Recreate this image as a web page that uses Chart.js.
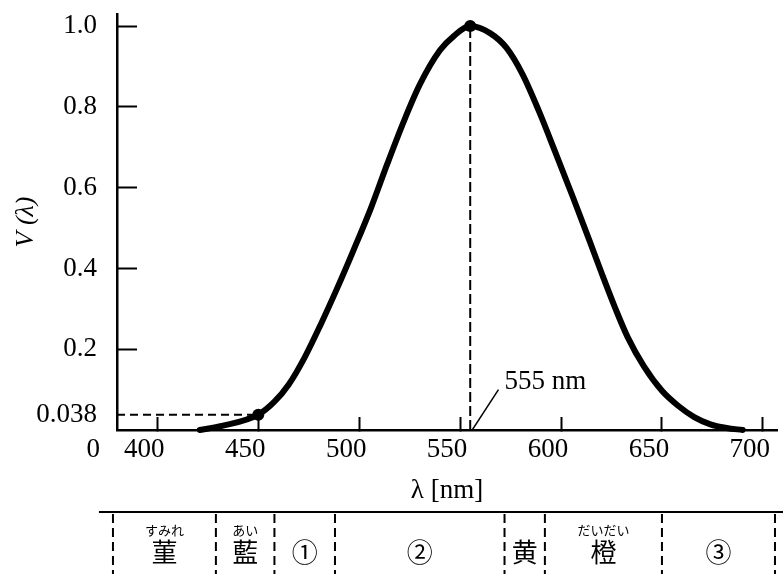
<!DOCTYPE html>
<html>
<head>
<meta charset="utf-8">
<script src="https://cdn.jsdelivr.net/npm/chart.js@4"></script>
<style>
  html, body { margin: 0; padding: 0; background: #fff; }
  #wrap { width: 783px; height: 574px; }
</style>
</head>
<body>
<div id="wrap"><canvas id="myChart" width="783" height="574"></canvas></div>
<script>
// curve
const lambdaNm = [421, 432, 450, 458, 465, 473, 481, 489, 497, 506, 514, 522, 530, 540, 547, 555, 565, 573, 581, 589, 597, 606, 614, 620, 627, 633, 641, 650, 658, 666, 674, 682, 690];
const vLambda = [0.0, 0.01, 0.038, 0.07, 0.112, 0.18, 0.262, 0.35, 0.443, 0.552, 0.66, 0.763, 0.855, 0.94, 0.976, 1.0, 0.982, 0.946, 0.88, 0.79, 0.69, 0.575, 0.47, 0.39, 0.30, 0.23, 0.158, 0.097, 0.06, 0.032, 0.014, 0.005, 0.0];

// marked points and guide lines
const markLambda = [450, 555];
const markV = [0.038, 1.0];
const dropLambda = [555, 555];
const dropV = [0, 1.0];
const levelLambda = [380, 450];
const levelV = [0.038, 0.038];
const leaderLambda = [556, 569];
const leaderV = [0, 0.10];
const peakLabel = '555 nm';

// axes
const xTicks = [400, 450, 500, 550, 600, 650, 700];
const yTicks = [0.038, 0.2, 0.4, 0.6, 0.8, 1.0];
const yTickLabels = ['0.038', '0.2', '0.4', '0.6', '0.8', '1.0'];

// colour table under the axis
const bandEdges = [378, 429, 458, 488, 572, 592, 650, 706];
const bandNames = ['菫', '藍', '①', '②', '黄', '橙', '③'];
const bandRuby = ['すみれ', 'あい', '', '', '', 'だいだい', ''];

const serif = "'Liberation Serif', 'Times New Roman', serif";
const cjk = "'Noto Sans CJK JP', 'Noto Sans CJK SC', sans-serif";
const ink = '#000';

const pts = (xs, ys) => xs.map((x, i) => ({ x: x, y: ys[i] }));

const extras = {
  id: 'extras',
  afterDraw(chart) {
    const { ctx, chartArea, scales: { x, y } } = chart;
    ctx.save();
    ctx.fillStyle = ink;
    ctx.strokeStyle = ink;

    // "0" at the origin, on the tick label row
    ctx.font = '27px ' + serif;
    ctx.textAlign = 'right';
    ctx.textBaseline = 'middle';
    ctx.fillText('0', chartArea.left - 17, chartArea.bottom + 20);

    // 555 nm label
    ctx.textAlign = 'left';
    ctx.fillText(peakLabel, x.getPixelForValue(572), y.getPixelForValue(0.12));

    // colour table
    const top = chartArea.bottom + 82;
    const bottom = chart.height;
    ctx.lineWidth = 2;
    ctx.beginPath();
    ctx.moveTo(x.getPixelForValue(bandEdges[0]) - 14, top);
    ctx.lineTo(chart.width, top);
    ctx.stroke();

    ctx.setLineDash([9, 5]);
    bandEdges.forEach(e => {
      const px = x.getPixelForValue(e);
      ctx.beginPath();
      ctx.moveTo(px, top + 2);
      ctx.lineTo(px, bottom);
      ctx.stroke();
    });
    ctx.setLineDash([]);

    ctx.textAlign = 'center';
    bandNames.forEach((name, i) => {
      const cx = (x.getPixelForValue(bandEdges[i]) + x.getPixelForValue(bandEdges[i + 1])) / 2;
      ctx.font = '26px ' + cjk;
      ctx.fillText(name, cx, top + 40);
      if (bandRuby[i]) {
        ctx.font = '13px ' + cjk;
        ctx.fillText(bandRuby[i], cx, top + 18);
      }
    });
    ctx.restore();
  }
};

new Chart(document.getElementById('myChart'), {
  type: 'line',
  data: {
    datasets: [
      {
        data: pts(markLambda, markV),
        showLine: false,
        pointRadius: 6,
        pointBackgroundColor: ink,
        pointBorderWidth: 0,
        clip: false
      },
      {
        data: pts(lambdaNm, vLambda),
        borderColor: ink,
        borderWidth: 6,
        pointRadius: 0,
        cubicInterpolationMode: 'monotone',
        borderCapStyle: 'round',
        clip: false
      },
      {
        data: pts(dropLambda, dropV),
        borderColor: ink,
        borderWidth: 2,
        borderDash: [10, 4],
        pointRadius: 0
      },
      {
        data: pts(levelLambda, levelV),
        borderColor: ink,
        borderWidth: 2,
        borderDash: [8, 5],
        pointRadius: 0
      },
      {
        data: pts(leaderLambda, leaderV),
        borderColor: ink,
        borderWidth: 1.5,
        pointRadius: 0
      }
    ]
  },
  options: {
    responsive: false,
    animation: false,
    devicePixelRatio: 1,
    layout: { padding: { top: 14, left: 0, right: 0, bottom: 0 } },
    plugins: { legend: { display: false }, tooltip: { enabled: false } },
    scales: {
      x: {
        type: 'linear',
        min: 380,
        max: 707,
        afterBuildTicks: s => { s.ticks = xTicks.map(v => ({ value: v })); },
        afterFit: s => { s.height = 144; s.paddingLeft = 0; s.paddingRight = 0; },
        ticks: {
          color: ink,
          font: { family: serif, size: 27 },
          padding: 17,
          labelOffset: -13,
          maxRotation: 0,
          autoSkip: false
        },
        grid: {
          drawOnChartArea: false,
          tickLength: -13,
          tickWidth: 2,
          tickColor: ink
        },
        border: { color: ink, width: 2.5 },
        title: {
          display: true,
          text: 'λ [nm]',
          color: ink,
          font: { family: serif, size: 27 },
          padding: { bottom: 67 }
        }
      },
      y: {
        min: 0,
        max: 1.03,
        afterBuildTicks: s => { s.ticks = yTicks.map(v => ({ value: v })); },
        afterFit: s => { s.width = 117; s.paddingTop = 0; s.paddingBottom = 0; },
        ticks: {
          color: ink,
          font: { family: serif, size: 27 },
          padding: 40,
          callback: (v, i) => yTickLabels[i]
        },
        grid: {
          drawOnChartArea: false,
          tickLength: -20,
          tickWidth: 2,
          tickColor: c => (c.tick && c.tick.value === 0.038) ? 'rgba(0,0,0,0)' : ink
        },
        border: { color: ink, width: 2.5 },
        title: {
          display: true,
          text: 'V (λ)',
          color: ink,
          font: { family: serif, size: 26, style: 'italic' },
          padding: { top: 11 }
        }
      }
    }
  },
  plugins: [extras]
});
</script>
</body>
</html>
